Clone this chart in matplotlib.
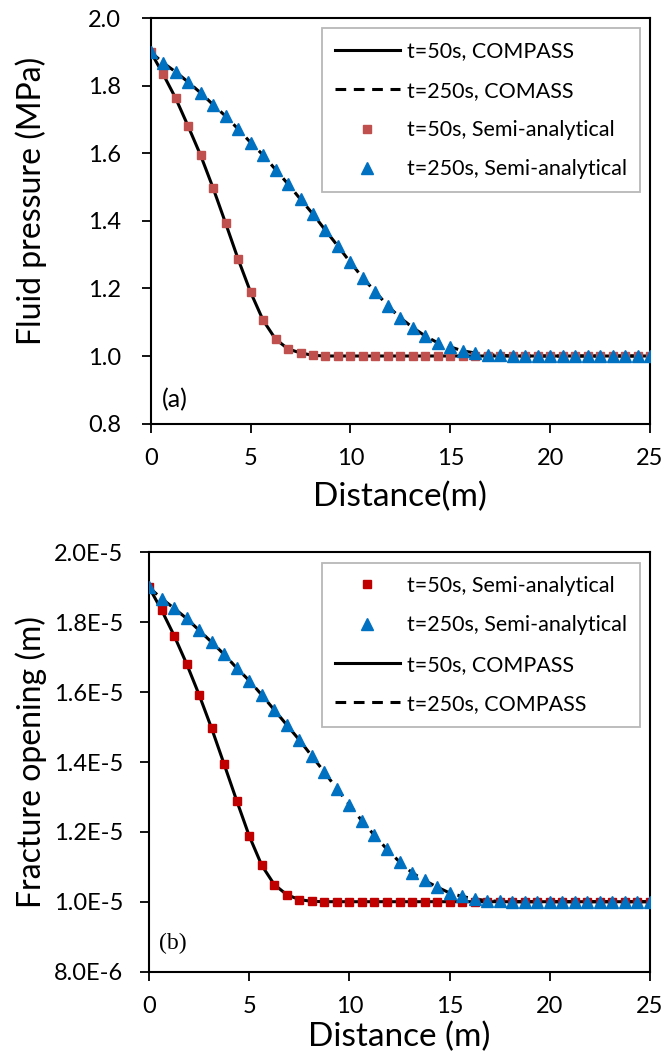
import numpy as np
import matplotlib
matplotlib.use("Agg")
import matplotlib.pyplot as plt

plt.rcParams['font.family'] = ['Lato', 'DejaVu Sans']

# distance along fracture (m), 41 sample points
distance = np.linspace(0, 25, 41)

# (a) fluid pressure (MPa)
p_50 = [1.900, 1.834, 1.763, 1.680, 1.594, 1.497, 1.393, 1.287, 1.189, 1.106,
        1.050, 1.021, 1.009, 1.002] + [1.000] * 27
p_250 = [1.900, 1.868, 1.841, 1.811, 1.779, 1.744, 1.710, 1.672, 1.632, 1.595,
         1.552, 1.509, 1.464, 1.420, 1.372, 1.325, 1.277, 1.231, 1.190, 1.148,
         1.113, 1.084, 1.059, 1.039, 1.027, 1.015, 1.009, 1.004, 1.002] + [1.000] * 12

# (b) fracture opening (m)
w_50 = np.array([1.900, 1.835, 1.762, 1.681, 1.592, 1.496, 1.393, 1.289, 1.188, 1.104,
                 1.049, 1.020, 1.006, 1.001] + [1.000] * 27) * 1e-5
w_250 = np.array([1.900, 1.868, 1.840, 1.811, 1.777, 1.743, 1.708, 1.669, 1.633, 1.592,
                  1.549, 1.506, 1.463, 1.417, 1.371, 1.323, 1.278, 1.231, 1.190, 1.150,
                  1.114, 1.083, 1.061, 1.042, 1.025, 1.015, 1.008, 1.003, 1.001] + [1.000] * 12) * 1e-5

blue = '#0070C0'
fs_tick = 17
fs_xlab = 24
fs_ylab = 23
fs_leg = 15.5

fig = plt.figure(figsize=(6.67, 10.61), dpi=100)
ax1 = fig.add_axes([0.226, 0.6008, 0.7485, 0.382])
ax2 = fig.add_axes([0.2235, 0.0843, 0.751, 0.395])


def style(ax, ypad):
    for s in ax.spines.values():
        s.set_linewidth(1.5)
        s.set_color('black')
    ax.tick_params(direction='out', length=6.5, width=1.3, labelsize=fs_tick)
    ax.tick_params(axis='x', pad=11)
    ax.tick_params(axis='y', pad=ypad)
    ax.set_xlim(0, 25)
    ax.set_xticks([0, 5, 10, 15, 20, 25])


def legend(ax, handles, labels):
    leg = ax.legend(handles, labels, loc='upper right', bbox_to_anchor=(0.98, 0.975),
                    fontsize=fs_leg, numpoints=1, handlelength=3.0, labelspacing=0.9,
                    fancybox=False, edgecolor='#A6A6A6', borderpad=0.6,
                    handletextpad=0.35, borderaxespad=0)
    leg.get_frame().set_linewidth(1.3)
    return leg


# top panel
l1, = ax1.plot(distance, p_50, '-', color='black', lw=2.2, zorder=2)
l2, = ax1.plot(distance, p_250, '--', color='black', lw=2.2, dashes=(3.5, 2.5), zorder=2)
m1, = ax1.plot(distance, p_50, 's', color='#C0504D', ms=6, ls='none', zorder=3)
m2, = ax1.plot(distance, p_250, '^', color=blue, ms=8.5, ls='none', zorder=4)
style(ax1, 15)
ax1.set_ylim(0.8, 2.0)
ax1.set_yticks(np.arange(0.8, 2.01, 0.2))
ax1.set_yticklabels(['0.8', '1.0', '1.2', '1.4', '1.6', '1.8', '2.0'])
ax1.set_xlabel('Distance(m)', fontsize=fs_xlab)
ax1.set_ylabel('Fluid pressure (MPa)', fontsize=fs_ylab)
ax1.xaxis.set_label_coords(0.5, -0.143)
ax1.yaxis.set_label_coords(-0.207, 0.55)
ax1.text(0.022, 0.03, '(a)', transform=ax1.transAxes, fontsize=18, va='bottom')
legend(ax1, [l1, l2, m1, m2],
       ['t=50s, COMPASS', 't=250s, COMASS',
        't=50s, Semi-analytical', 't=250s, Semi-analytical'])

# bottom panel
n1, = ax2.plot(distance, w_50, 's', color='#C00000', ms=6, ls='none', zorder=3)
n2, = ax2.plot(distance, w_250, '^', color=blue, ms=8.5, ls='none', zorder=4)
k1, = ax2.plot(distance, w_50, '-', color='black', lw=2.2, zorder=2)
k2, = ax2.plot(distance, w_250, '--', color='black', lw=2.2, dashes=(3.5, 2.5), zorder=2)
style(ax2, 12)
ax2.set_ylim(0.8e-5, 2.0e-5)
ax2.set_yticks(np.arange(0.8, 2.01, 0.2) * 1e-5)
ax2.set_yticklabels(['8.0E-6', '1.0E-5', '1.2E-5', '1.4E-5', '1.6E-5', '1.8E-5', '2.0E-5'])
ax2.set_xlabel('Distance (m)', fontsize=fs_xlab)
ax2.set_ylabel('Fracture opening (m)', fontsize=fs_ylab)
ax2.xaxis.set_label_coords(0.5, -0.12)
ax2.yaxis.set_label_coords(-0.204, 0.5)
ax2.text(0.02, 0.042, '(b)', transform=ax2.transAxes, fontsize=17, va='bottom',
         family='Liberation Serif')
legend(ax2, [n1, n2, k1, k2],
       ['t=50s, Semi-analytical', 't=250s, Semi-analytical',
        't=50s, COMPASS', 't=250s, COMPASS'])

fig.savefig('out.png', dpi=100)
